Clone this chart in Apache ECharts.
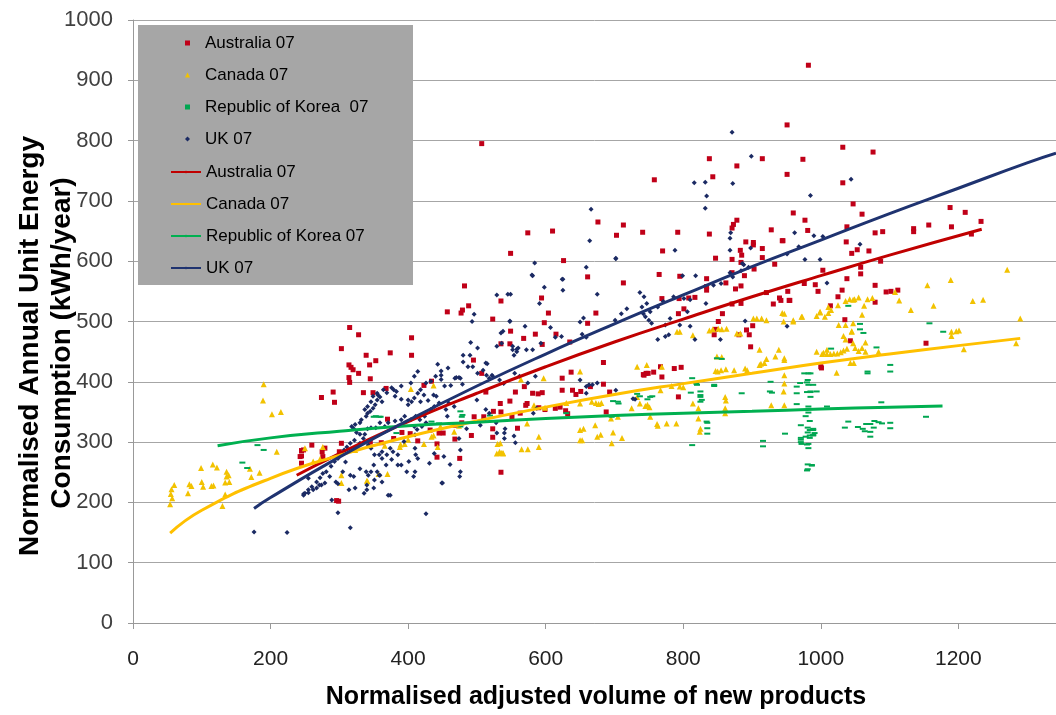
<!DOCTYPE html>
<html>
<head>
<meta charset="utf-8">
<script src="https://cdn.jsdelivr.net/npm/echarts@6/dist/echarts.min.js"></script>
<style>html,body{margin:0;padding:0;background:#fff}#c{width:1056px;height:715px}</style>
</head>
<body>
<div id="c"></div>
<script>
const xTicks = [0,200,400,600,800,1000,1200];
const yTicks = [0,100,200,300,400,500,600,700,800,900,1000];

const australia = [[982,925],[951,826],[1032,789],[1076,781],[974,769],[951,744],[1032,730],[1047,695],[960,680],[1060,678],[977,668],[1038,657],[1188,689],[1210,681],[1233,666],[1135,654],[1135,649],[1157,660],[1190,657],[1219,645],[981,651],[1079,647],[1090,649],[945,634],[1037,632],[1053,619],[1045,613],[1070,617],[1087,600],[1058,590],[1058,579],[1003,585],[1038,571],[976,563],[992,561],[996,550],[1031,552],[1079,560],[1095,549],[1102,550],[1112,552],[952,550],[940,539],[955,535],[1025,541],[1079,532],[1035,503],[1014,526],[1153,464],[1043,468],[1001,423],
[507,795],[838,770],[915,770],[878,758],[758,735],[843,740],[676,665],[713,660],[574,647],[610,650],[703,643],[741,648],[792,648],[838,645],[878,668],[873,661],[871,655],[928,652],[549,613],[626,601],[770,617],[891,632],[902,631],[902,627],[915,621],[915,606],[944,634],[883,618],[885,610],[871,603],[847,605],[884,598],[933,595],[903,587],[871,581],[765,578],[795,575],[889,576],[834,571],[661,574],
[482,559],[535,534],[457,516],[477,514],[479,519],[488,526],[523,504],[549,484],[315,490],[328,478],[303,455],[405,473],[405,444],[374,448],[339,444],[353,435],[314,428],[317,424],[320,420],[328,414],[344,428],[345,405],[314,407],[315,399],[291,383],[274,374],[293,366],[335,382],[349,382],[368,389],[495,436],[507,414],[535,463],[548,463],[423,394],[434,401],[513,383],[534,364],[548,368],[524,351],[496,342],[510,342],[478,332],[468,328],[492,311],[523,322],[523,308],[468,305],[442,297],[445,315],[432,320],[451,315],[414,302],[403,314],[391,316],[379,306],[370,338],[345,300],[303,298],[260,295],[248,287],[275,284],[276,276],[279,290],[300,284],[361,299],[442,275],[475,273],[535,250],[296,203],[245,265],[243,276],[299,202],[245,286],[245,277],
[713,564],[594,539],[604,514],[673,514],[661,497],[598,498],[585,479],[615,479],[635,466],[595,462],[568,472],[769,538],[794,538],[808,539],[817,540],[793,513],[801,521],[851,500],[857,513],[871,529],[862,564],[876,554],[884,559],[884,530],[901,493],[892,486],[896,478],[881,478],[834,558],[834,552],[921,548],[931,529],[942,535],[954,535],[898,458],[845,478],[847,487],[787,422],[797,424],[767,425],[743,411],[746,414],[757,416],[769,408],[684,432],[624,406],[637,416],[1000,425],[556,383],[569,392],[573,364],[581,381],[589,380],[595,382],[624,386],[639,386],[644,379],[651,384],[665,392],[793,375],[535,350],[551,342],[563,348],[571,361],[559,323],[590,357],[599,354],[621,358],[629,352],[632,347],[614,356],[742,412],[749,414],[693,383],[684,396],[688,350]];

const canada = [[190,396],[189,369],[202,346],[215,350],[209,284],[99,257],[116,263],[122,258],[136,251],[139,245],[136,243],[134,233],[140,234],[170,256],[172,242],[184,249],[100,234],[102,226],[114,227],[117,228],[82,230],[85,227],[60,229],[56,222],[55,214],[57,207],[54,197],[80,215],[134,213],[130,194],
[404,388],[437,394],[534,298],[533,282],[536,282],[538,282],[437,311],[447,326],[400,304],[389,296],[366,294],[370,247],[340,236],[323,287],[272,272],[262,268],[250,290],[467,317],[474,327],[276,292],[303,232],[303,245],[341,235],[357,247],[388,292],[395,297],[434,309],[443,292],[423,297],
[529,281],[533,284],[538,281],[530,297],[573,331],[590,309],[590,292],[565,288],[574,288],[564,404],[597,406],[650,417],[583,361],[599,357],[630,365],[650,364],[667,367],[673,365],[677,363],[681,365],[650,320],[655,322],[672,328],[675,309],[680,312],[650,303],[653,303],[696,298],[698,316],[711,307],[695,339],[705,342],[725,356],[733,375],[737,364],[745,360],[748,362],[751,358],[752,342],[762,330],[763,327],[776,331],[790,331],[795,392],[767,386],[733,425],[747,428],[769,425],[783,393],[822,339],[822,356],[825,322],[824,317],[861,375],[861,356],[862,369],[861,348],[851,488],[856,487],[863,488],[847,418],[850,417],[855,419],[862,421],[874,419],[890,422],[893,419],[911,428],[913,430],[918,431],[921,438],[934,442],[947,436],[947,411],[946,384],[947,361],[928,361],[939,453],[849,442],[856,441],[878,480],[911,453],[902,505],[907,505],[914,505],[921,502],[947,513],[960,502],[972,508],[994,450],[1004,448],[1009,453],[999,516],[1011,524],[883,480],[791,483],[795,483],[814,477],[838,485],[843,487],[800,391],[814,364],
[1271,586],[1189,569],[1155,560],[1221,534],[1236,536],[1290,505],[1164,526],[1131,519],[1201,485],[1190,483],[1190,476],[1284,464],[1055,540],[1042,537],[1047,536],[1049,537],[1036,534],[1025,527],[1015,519],[1011,514],[1006,508],[973,508],[944,514],[946,500],[1060,511],[1063,526],[1075,539],[1068,537],[1036,494],[1026,494],[1047,497],[1045,484],[1033,476],[1036,470],[1047,464],[1114,535],[1108,549],
[1208,454],[1197,484],[1045,483],[1065,465],[1084,450],[1038,455],[1033,452],[1029,449],[1024,447],[1019,447],[1014,446],[1009,446],[1002,446],[1050,456],[1060,456],[1055,451],[1043,431],[1048,431],[1065,450],[1023,415],[947,439],[947,397],[994,509],[999,515],[960,500]];

const korea = [[190,287],[181,295],[159,266],[166,257],[350,342],[360,342],[478,342],[476,326],[383,315],[353,343],[358,342],[476,351],[479,345],[519,344],[535,335],[434,334],[445,331],
[813,406],[820,395],[825,384],[825,375],[825,367],[811,382],[849,439],[856,438],[845,395],[834,334],[835,323],[813,295],[698,368],[705,367],[733,380],[752,375],[696,342],[713,345],[630,348],[885,381],[926,384],[927,400],[916,302],[916,293],[948,314],[965,363],[970,398],[980,399],[980,383],[985,383],[985,375],[971,328],[971,304],[972,297],[982,297],[984,307],[989,312],[989,320],[991,315],[984,335],[981,263],[987,262],[981,255],[1009,359],
[1057,496],[1057,487],[1062,481],[1040,526],[1081,457],[1015,455],[985,414],[976,414],[1068,417],[1068,414],[1101,428],[1101,417],[981,403],[965,392],[965,381],[982,395],[985,384],[1088,366],[982,359],[978,343],[982,349],[981,324],[984,320],[981,316],[984,311],[978,309],[971,307],[971,300],[980,296],[1035,324],[1040,334],[1054,325],[1061,322],[1066,330],[1072,330],[1078,335],[1084,333],[1089,331],[1064,318],[1072,317],[1077,324],[1101,323],[1101,332],[1072,309],[1153,342],[1158,497],[1178,483],
[835,314],[835,332],[825,378],[827,370],[819,397],[737,376],[706,364],[755,376],[748,371],[929,382],[989,395],[994,384],[982,414],[989,311],[989,322],[982,290],[987,261],[980,253],[845,393]];

const uk = [[871,814],[899,774],[816,730],[832,731],[872,729],[834,708],[832,688],[666,686],[664,634],[702,605],[659,590],[584,597],[581,576],[624,570],[788,618],[869,647],[868,638],[868,618],[898,622],[888,594],[884,584],[868,581],[818,576],[799,576],
[1044,736],[985,709],[962,647],[990,642],[1003,641],[968,624],[1057,628],[977,603],[999,603],[1009,564],[951,492],[951,612],
[529,544],[545,545],[496,512],[493,500],[548,500],[538,484],[491,465],[501,456],[490,444],[480,444],[480,433],[443,429],[458,423],[448,418],[448,411],[468,406],[470,407],[474,407],[476,406],[487,425],[494,425],[501,414],[515,430],[522,411],[533,403],[539,397],[554,444],[558,450],[560,456],[479,396],[462,394],[437,378],[441,376],[429,369],[423,378],[418,367],[414,381],[409,373],[405,367],[400,370],[390,371],[400,362],[381,376],[379,387],[383,384],[362,367],[359,375],[356,378],[355,370],[352,362],[349,356],[345,351],[341,348],[339,343],[337,354],[332,337],[330,332],[323,329],[318,326],[321,322],[325,316],[330,313],[337,313],[341,322],[346,324],[353,324],[359,332],[366,326],[371,332],[381,335],[390,337],[395,343],[404,337],[411,343],[417,337],[424,343],[426,332],[420,326],[413,321],[409,326],[433,354],[438,359],[445,365],[455,354],[459,365],[467,359],[457,343],[500,370],[513,354],[528,332],[540,306],[541,322],[505,328],[485,322],[474,306],[476,287],[476,251],[475,243],[450,232],[461,263],[452,276],[438,281],[431,265],[414,273],[398,251],[390,262],[385,262],[376,271],[369,279],[374,290],[362,284],[358,279],[351,279],[346,290],[342,295],[335,306],[330,298],[322,303],[316,298],[311,292],[307,287],[302,279],[298,273],[293,268],[288,260],[281,251],[276,248],[272,241],[267,234],[260,226],[255,221],[255,216],[267,224],[274,229],[279,232],[286,243],[295,234],[305,251],[309,267],[316,245],[321,243],[330,256],[339,251],[342,245],[346,251],[351,237],[340,221],[350,224],[362,234],[359,245],[371,212],[289,204],[298,183],[316,158],[426,181],
[414,417],[409,409],[404,398],[390,393],[376,390],[369,382],[364,387],[355,381],[349,376],[346,367],[341,359],[418,387],[426,398],[433,401],[440,409],[448,404],[453,393],
[580,577],[598,557],[625,570],[625,552],[702,604],[549,545],[591,530],[570,492],[548,501],[535,481],[675,545],[650,499],[655,506],[701,502],[710,513],[718,521],[737,548],[743,541],[740,524],[742,513],[745,508],[750,502],[754,497],[752,516],[747,530],[763,524],[771,533],[786,541],[801,538],[806,516],[774,494],[779,478],[774,475],[763,470],[795,494],[810,492],[817,470],[844,560],[855,563],[872,574],[886,596],[895,590],[890,501],[529,459],[581,453],[607,490],[614,474],[623,475],[653,479],[659,474],[593,464],[572,453],[552,453],[552,459],[558,454],[536,464],[513,431],[523,409],[514,411],[509,419],[518,406],[555,414],[562,409],[585,409],[574,398],[582,348],[587,356],[650,403],[659,392],[663,395],[668,395],[675,398],[659,381],[702,386],[727,372],[529,315],[540,315],[554,310],[556,299],[518,348],[511,337],[781,505],[810,536],[833,530],[854,470],[730,371],
[248,214],[250,215],[176,151],[224,150],[374,212],[248,212],[262,221],[271,229],[255,240],[298,231],[314,221],[323,224],[336,215],[340,229],[355,251],[358,245],[350,262],[362,273],[368,262],[378,284],[385,279],[394,301],[408,243],[411,279],[410,290],[410,251],[401,268],[449,232],[410,312]];

const australiaTrend = [[238,245],[300,281],[400,334],[500,381],[600,425],[700,466],[800,504],[900,541],[1000,576],[1100,610],[1234,653]];
const canadaTrend = [[54,149],[100,187],[200,240],[300,278],[400,309],[500,335],[600,358],[700,379],[800,397],[900,414],[1000,431],[1100,446],[1200,460],[1290,472]];
const koreaTrend = [[123,294],[200,307],[300,318],[400,327],[500,333],[600,339],[700,344],[800,348],[900,351],[1000,355],[1100,358],[1177,360]];
const ukTrend = [[176,190],[200,208],[300,275],[400,336],[500,393],[600,446],[700,496],[800,544],[900,591],[1000,635],[1100,679],[1200,721],[1300,763],[1342,779]];

const scatterNames = ['Australia 07','Canada 07','Republic of Korea  07','UK 07'];
const lineNames = ['Australia 07 ','Canada 07 ','Republic of Korea 07','UK 07 '];

const FONT = '"Liberation Sans", Arial, sans-serif';
const chart = echarts.init(document.getElementById('c'), null, {renderer:'canvas'});

function scat(name, data, color, symbol, size){
  return {type:'scatter', name, data, symbol, symbolSize:size,
    itemStyle:{color, opacity:1}, emphasis:{disabled:true}, animation:false, z:2};
}
function trend(name, data, color){
  return {type:'line', name, data, smooth:true, symbol:'none', showSymbol:false,
    lineStyle:{color, width:3}, itemStyle:{color}, emphasis:{disabled:true}, animation:false, z:3};
}

chart.setOption({
  backgroundColor:'#ffffff',
  animation:false,
  grid:{left:133, right:0, top:20, bottom:92, containLabel:false},
  xAxis:{type:'value', min:0, max:1342, interval:200,
    axisLine:{show:true, onZero:false, lineStyle:{color:'#999999', width:1}},
    axisTick:{show:true, length:6, inside:false, lineStyle:{color:'#999999'}, customValues:xTicks},
    axisLabel:{margin:26, color:'#222', fontSize:21, fontFamily:FONT, customValues:xTicks, formatter:v => String(v)},
    splitLine:{show:false}},
  yAxis:{type:'value', min:0, max:1000, interval:100,
    axisLine:{show:true, lineStyle:{color:'#999999', width:1}},
    axisTick:{show:true, length:5, lineStyle:{color:'#999999'}},
    axisLabel:{margin:20, color:'#404040', fontSize:22, fontFamily:FONT, customValues:yTicks, formatter:v => String(v)},
    splitLine:{show:true, lineStyle:{color:'#a6a6a6', width:1}}},
  legend:[
    {data:scatterNames, orient:'vertical', left:185, top:33, padding:0, itemGap:12,
     itemWidth:5, itemHeight:5, selectedMode:false,
     textStyle:{fontSize:17, color:'#000', fontFamily:FONT, lineHeight:20, padding:[0,0,0,10]}},
    {data:lineNames, orient:'vertical', left:170, top:162, padding:0, itemGap:12,
     itemWidth:30, itemHeight:3, selectedMode:false,
     textStyle:{fontSize:17, color:'#000', fontFamily:FONT, lineHeight:20}}
  ],
  graphic:[
    {type:'rect', z:1, zlevel:0, shape:{x:138, y:25, width:275, height:260}, style:{fill:'#a6a6a6'}},
    {type:'text', x:30, y:346, rotation:Math.PI/2, z:10,
     style:{text:'Normalised Annual Unit Energy', fill:'#000', font:'bold 28px "Liberation Sans", Arial, sans-serif', align:'center', verticalAlign:'middle'}},
    {type:'text', x:62, y:343, rotation:Math.PI/2, z:10,
     style:{text:'Consumption (kWh/year)', fill:'#000', font:'bold 28px "Liberation Sans", Arial, sans-serif', align:'center', verticalAlign:'middle'}},
    {type:'text', x:596, y:697, z:10,
     style:{text:'Normalised adjusted volume of new products', fill:'#000', font:'bold 25px "Liberation Sans", Arial, sans-serif', align:'center', verticalAlign:'middle'}}
  ],
  series:[
    scat(scatterNames[0], australia, '#c00018', 'rect', 5),
    scat(scatterNames[1], canada, '#f2c200', 'triangle', 6),
    scat(scatterNames[2], korea, '#00a651', 'rect', [6,2]),
    scat(scatterNames[3], uk, '#1b2a63', 'diamond', 5),
    trend(lineNames[0], australiaTrend, '#c00000'),
    trend(lineNames[1], canadaTrend, '#ffc000'),
    trend(lineNames[2], koreaTrend, '#00b050'),
    trend(lineNames[3], ukTrend, '#1f3370')
  ]
});
</script>
</body>
</html>
